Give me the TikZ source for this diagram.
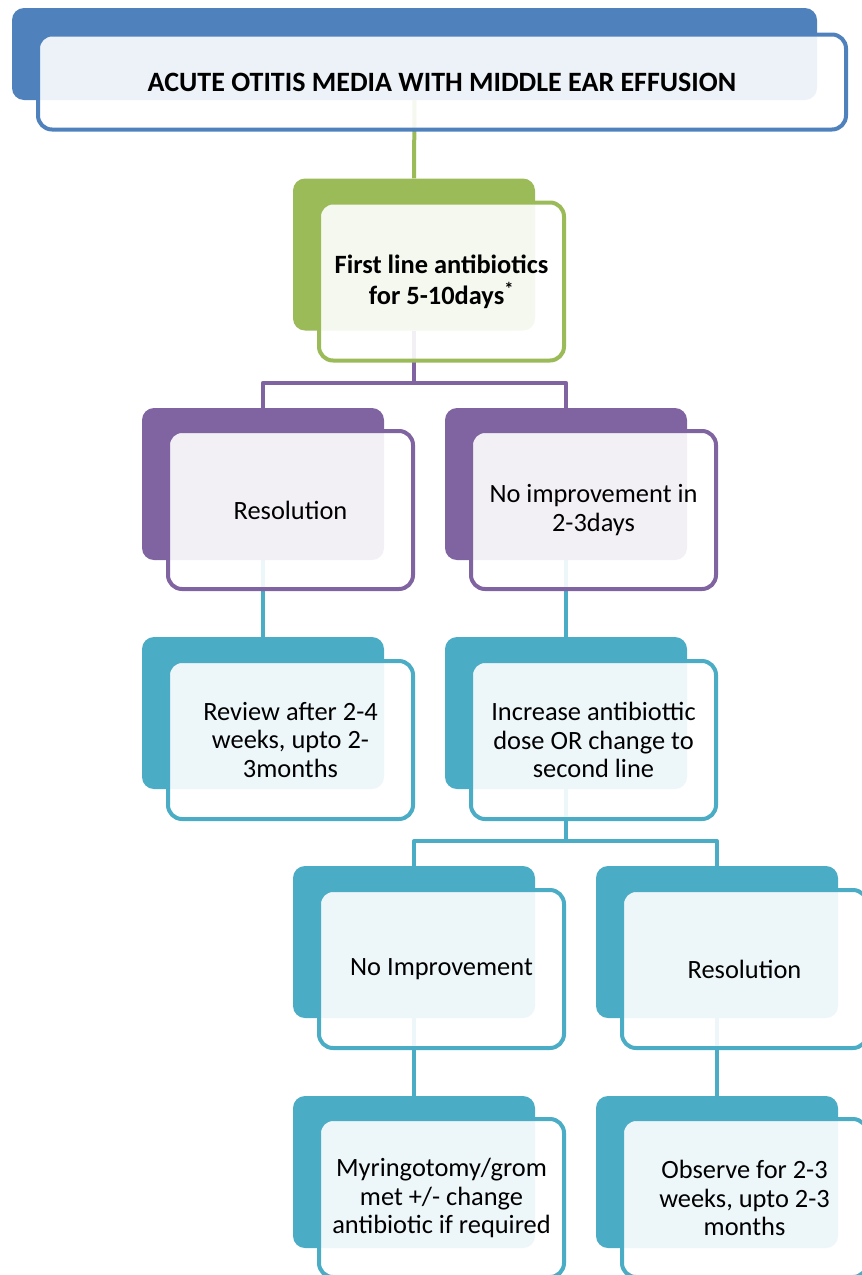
\documentclass[tikz,border=0pt]{standalone}
\usepackage{fontspec}
\setmainfont{Carlito}
\usetikzlibrary{positioning}
\pgfdeclarelayer{bg}
\pgfsetlayers{bg,main}
\definecolor{aomblue}{RGB}{79,129,189}
\definecolor{aomgreen}{RGB}{155,187,89}
\definecolor{aompurple}{RGB}{128,100,162}
\definecolor{aomteal}{RGB}{75,172,198}
\tikzset{
  backbox/.style={fill=#1, rounded corners=12pt, minimum width=242pt, minimum height=152pt, inner sep=0pt},
  frontbox/.style={draw=#1, line width=4pt, fill=white, fill opacity=0.9, text opacity=1, rounded corners=14pt, minimum width=245pt, minimum height=158pt, inner sep=0pt, align=center, font=\fontsize{26.4}{28.5}\selectfont},
  link/.style={draw=#1, line width=4pt, line join=round},
}
\begin{document}
\begin{tikzpicture}[x=1pt,y=1pt,yscale=-1,xscale=1]
\useasboundingbox (0,0) rectangle (862,1275);

%Title
\node [backbox=aomblue, minimum width=805pt, minimum height=92pt] (title) at (414.5,54) {};
\node [frontbox=aomblue, minimum width=808pt, minimum height=95pt, font=\fontsize{28}{30}\selectfont\bfseries] (titlef) at (442,82) {ACUTE OTITIS MEDIA WITH MIDDLE EAR EFFUSION};

%First line
\node [backbox=aomgreen] (first) at (414,254.5) {};
\node [frontbox=aomgreen, font=\fontsize{26.4}{31}\selectfont\bfseries] (firstf) at (441.5,281.5) {First line antibiotics\\for 5-10days\textsuperscript{*}};

%Purple row
\node [backbox=aompurple] (resl) at (263,484) {};
\node [frontbox=aompurple] (reslf) at (290.5,510) {Resolution};
\node [backbox=aompurple] (noimp) at (566,484) {};
\node [frontbox=aompurple] (noimpf) at (593.5,510) {No improvement in\\2-3days};

%Teal row
\node [backbox=aomteal] (review) at (263,713) {};
\node [frontbox=aomteal] (reviewf) at (290.5,740) {Review after 2-4\\weeks, upto 2-\\3months};
\node [backbox=aomteal] (incr) at (566,713) {};
\node [frontbox=aomteal] (incrf) at (593.5,740) {Increase antibiottic\\dose OR change to\\second line};

%Second branch
\node [backbox=aomteal] (noimpb) at (414,942) {};
\node [frontbox=aomteal] (noimpbf) at (441.5,969) {No Improvement};
\node [backbox=aomteal] (reslb) at (717,942) {};
\node [frontbox=aomteal] (reslbf) at (744.5,969) {Resolution};

%Last row
\node [backbox=aomteal] (myr) at (414,1172) {};
\node [frontbox=aomteal] (myrf) at (441.5,1198) {Myringotomy/grom\\met +/- change\\antibiotic if required};
\node [backbox=aomteal] (obs) at (717,1172) {};
\node [frontbox=aomteal] (obsf) at (744.5,1198) {Observe for 2-3\\weeks, upto 2-3\\months};

%Connectors
\begin{pgfonlayer}{bg}
\draw [link=aomgreen] (title.south) -- (first.north);
\draw [link=aompurple] (first.south) -- ++(0,52) coordinate (forka);
\draw [link=aompurple] (forka) -| (resl.north);
\draw [link=aompurple] (forka) -| (noimp.north);
\draw [link=aomteal] (resl.south) -- (review.north);
\draw [link=aomteal] (noimp.south) -- (incr.north);
\draw [link=aomteal] (incr.south) -- ++(0,52) coordinate (forkb);
\draw [link=aomteal] (forkb) -| (noimpb.north);
\draw [link=aomteal] (forkb) -| (reslb.north);
\draw [link=aomteal] (noimpb.south) -- (myr.north);
\draw [link=aomteal] (reslb.south) -- (obs.north);
\end{pgfonlayer}

\end{tikzpicture}
\end{document}
